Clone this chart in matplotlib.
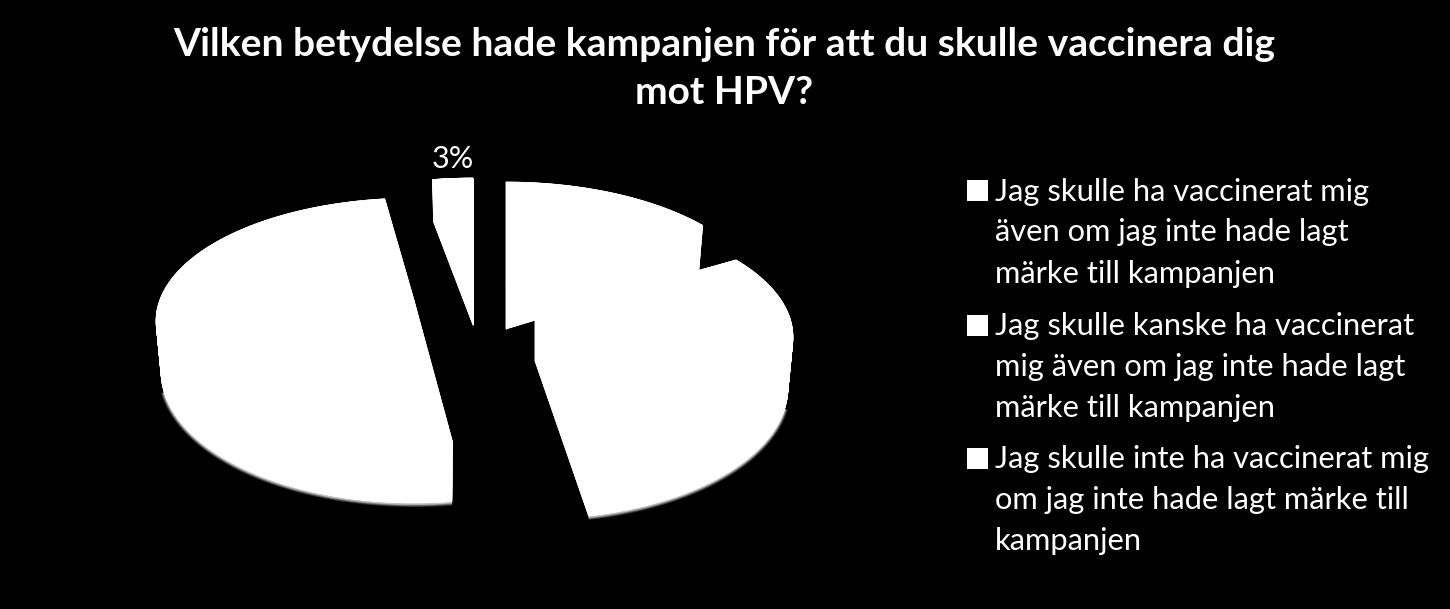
import numpy as np
import matplotlib
matplotlib.use("Agg")
import matplotlib.pyplot as plt
from matplotlib.patches import Polygon, Rectangle
from matplotlib.collections import PolyCollection

# ---- data ----
title_lines = ["Vilken betydelse hade kampanjen för att du skulle vaccinera dig", "mot HPV?"]
slice_values = [13.8, 32.8, 50.9, 2.5]
slice_labels = ["", "", "", "3%"]
legend_labels = [
    ["Jag skulle ha vaccinerat mig", "även om jag inte hade lagt", "märke till kampanjen"],
    ["Jag skulle kanske ha vaccinerat", "mig även om jag inte hade lagt", "märke till kampanjen"],
    ["Jag skulle inte ha vaccinerat mig", "om jag inte hade lagt märke till", "kampanjen"],
]

# ---- layout (pixel units of the 1450x609 canvas) ----
FONT = ["Lato", "Open Sans", "DejaVu Sans"]
PIE_TIPS = [(506, 284), (535, 316), (414, 300), (473, 280)]   # exploded tip of each slice
START_TRIM_DEG = [0, 1.5, 3.6, 0]                             # perspective correction of each cut
END_TRIM_DEG = [0, 0, -2.5, 0]
TOP = dict(a=258, b=123, c=21)
BOT = dict(a=253, b=131.5, c=26.5, drop=45)
LEG_X_BOX, LEG_X_TXT, LEG_BOX = 967, 995, 21
LEG_Y = [190.5, 325, 458]
LEG_DY = 41

fig = plt.figure(figsize=(14.5, 6.09), dpi=100, facecolor="black")
ax = fig.add_axes([0, 0, 1, 1])
ax.set_xlim(0, 1450)
ax.set_ylim(609, 0)
ax.axis("off")


def rim(tip, th, g, drop=0):
    return np.column_stack([tip[0] + g["a"] * np.sin(th),
                            tip[1] + drop + g["c"] - g["b"] * np.cos(th)])


edges = np.cumsum([0] + slice_values) / sum(slice_values) * 2 * np.pi


def sweep(i):
    return np.linspace(edges[i] + np.radians(START_TRIM_DEG[i]),
                       edges[i + 1] - np.radians(END_TRIM_DEG[i]), 240)


# soft shadow below the front rim
for i, tip in enumerate(PIE_TIPS):
    th = sweep(i)
    pts = rim(tip, th, BOT, BOT["drop"])
    mask = np.cos(th) < -0.15
    if mask.sum() > 1:
        for lw, grey in [(6, "#2a2a2a"), (4.5, "#555555"), (3, "#8a8a8a"), (1.5, "#c0c0c0")]:
            ax.plot(pts[mask, 0], pts[mask, 1] + 1, color=grey, lw=lw * 0.72,
                    solid_capstyle="butt", zorder=1)

# slices: top face, bottom face, outer wall (one quad per step) and cut faces
for i, tip in enumerate(PIE_TIPS):
    th = sweep(i)
    t = rim(tip, th, TOP)
    b = rim(tip, th, BOT, BOT["drop"])
    tip_t = np.array(tip, float)
    tip_b = tip_t + [0, BOT["drop"]]
    faces = [
        np.vstack([tip_t, t]),
        np.vstack([tip_b, b]),
        np.vstack([tip_t, t[0], b[0], tip_b]),
        np.vstack([tip_t, t[-1], b[-1], tip_b]),
    ]
    for f in faces:
        ax.add_patch(Polygon(f, closed=True, fc="white", ec="white", lw=0.4, zorder=2))
    quads = [np.vstack([t[k], t[k + 1], b[k + 1], b[k]]) for k in range(len(th) - 1)]
    ax.add_collection(PolyCollection(quads, facecolors="white", edgecolors="white",
                                     linewidths=0.4, zorder=2))
    if slice_labels[i]:
        ax.text(t[len(t) // 2, 0], t[len(t) // 2, 1] - 19, slice_labels[i], color="white",
                family=FONT, fontsize=22, ha="center", va="center", zorder=3)

# title
for line, y in zip(title_lines, [45, 93]):
    ax.text(724, y, line, color="white", family=FONT, fontweight="bold",
            fontsize=28.05, ha="center", va="center", zorder=3)

# legend
for lines, y0 in zip(legend_labels, LEG_Y):
    ax.add_patch(Rectangle((LEG_X_BOX, y0 - LEG_BOX / 2), LEG_BOX, LEG_BOX, fc="white", ec="none", zorder=3))
    for k, line in enumerate(lines):
        ax.text(LEG_X_TXT, y0 + 1 + k * LEG_DY, line, color="white", family=FONT,
                fontsize=22.2, ha="left", va="center", zorder=3)

fig.savefig("out.png", dpi=100, facecolor="black")
